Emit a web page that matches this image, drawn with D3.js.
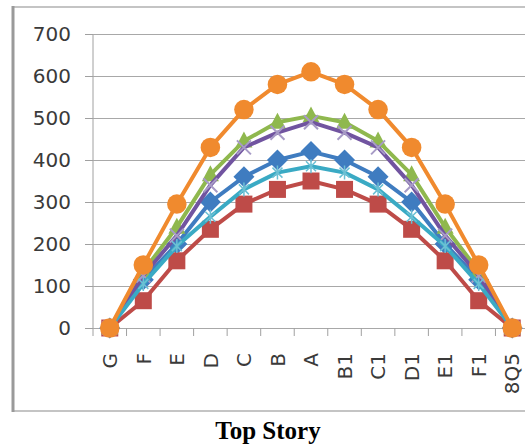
<!DOCTYPE html>
<html>
<head>
<meta charset="utf-8">
<script src="https://cdn.jsdelivr.net/npm/d3@7"></script>
<style>
  html, body { margin: 0; padding: 0; background: #fff; }
  svg { display: block; }
</style>
</head>
<body>
<svg id="chart" width="525" height="446"></svg>
<script>
const categories = ["G","F","E","D","C","B","A","B1","C1","D1","E1","F1","8Q5"];
const yTicks = [0,100,200,300,400,500,600,700];
const seriesBlue   = [0,115,200,300,360,400,420,400,360,300,200,115,0];
const seriesRed    = [0,65,160,235,295,330,350,330,295,235,160,65,0];
const seriesGreen  = [0,135,240,365,445,490,505,490,445,365,240,135,0];
const seriesPurple = [0,125,220,340,430,465,490,465,430,340,220,125,0];
const seriesCyan   = [0,105,195,265,330,370,385,370,330,265,195,105,0];
const seriesOrange = [0,150,295,430,520,580,610,580,520,430,295,150,0];
const chartTitle = "Top Story";

const series = [
  {values: seriesBlue,   color: "#3f7cc0", marker: "diamond"},
  {values: seriesRed,    color: "#be4b48", marker: "square"},
  {values: seriesGreen,  color: "#8fb84e", marker: "triangle"},
  {values: seriesPurple, color: "#7154a0", marker: "x", markerColor: "#a79bc6"},
  {values: seriesCyan,   color: "#3aaac4", marker: "star", markerColor: "#6cc0d4"},
  {values: seriesOrange, color: "#f08a2e", marker: "circle"}
];

const svg = d3.select("#chart");
const pLeft = 93, pRight = 529, pTop = 34, pBottom = 328;

const x = d3.scaleBand().domain(categories).range([pLeft, pRight]);
const y = d3.scaleLinear().domain([0, 700]).range([pBottom, pTop]);

// outer frame
svg.append("rect").attr("x", 13).attr("y", 7).attr("width", 530).attr("height", 404)
  .attr("fill", "#fff").attr("stroke", "#c4c4c4").attr("stroke-width", 2);
svg.append("line").attr("x1", 13).attr("x2", 13).attr("y1", 6).attr("y2", 412)
  .attr("stroke", "#9a9a9a").attr("stroke-width", 3);

// gridlines + y ticks
const yAxis = d3.axisLeft(y).tickValues(yTicks).tickSize(8).tickPadding(14).tickFormat(d3.format("d"));
const gy = svg.append("g").attr("transform", `translate(${pLeft},0)`).call(yAxis);
gy.select(".domain").attr("stroke", "#a0a0a0").attr("d", `M0,${pTop}V${pBottom + 8}`);
gy.selectAll(".tick line").attr("stroke", "#a0a0a0");
gy.selectAll(".tick text").attr("font-family", "DejaVu Sans, sans-serif").attr("font-size", 20).attr("fill", "#3a3a3a");
gy.selectAll(".tick").append("line").attr("x1", 0).attr("x2", 525 - pLeft)
  .attr("stroke", "#a8a8a8").attr("stroke-width", 1.2);

// x axis ticks at band boundaries
const bounds = categories.map(c => x(c) + x.bandwidth());
svg.append("g").selectAll("line").data(bounds).join("line")
  .attr("x1", d => d).attr("x2", d => d).attr("y1", pBottom).attr("y2", pBottom + 8)
  .attr("stroke", "#a0a0a0");

// x labels
svg.append("g").selectAll("text").data(categories).join("text")
  .attr("transform", d => `translate(${x(d) + x.bandwidth() / 2},353) rotate(-90)`)
  .attr("text-anchor", "end").attr("dy", "0.36em")
  .attr("font-family", "DejaVu Sans, sans-serif").attr("font-size", 20).attr("fill", "#3a3a3a")
  .text(d => d);

// series lines and markers
const cx = i => x(categories[i]) + x.bandwidth() / 2;
const line = d3.line().x((d, i) => cx(i)).y(d => y(d));

function markerPath(type) {
  switch (type) {
    case "circle": return d3.symbol(d3.symbolCircle, 300)();
    case "square": return "M-8.5,-8.5H8.5V8.5H-8.5Z";
    case "diamond": return "M0,-10.5L10.5,0L0,10.5L-10.5,0Z";
    case "triangle": return "M0,-9.5L8.5,6.5H-8.5Z";
    case "x": return "M-7,-7L7,7M7,-7L-7,7";
    case "star": return "M-5,-5L5,5M5,-5L-5,5M0,-7V7";
  }
}

series.forEach(s => {
  const g = svg.append("g");
  g.append("path").datum(s.values).attr("d", line)
    .attr("fill", "none").attr("stroke", s.color).attr("stroke-width", 4)
    .attr("stroke-linejoin", "round");
  const stroked = s.marker === "x" || s.marker === "star";
  g.selectAll("path.m").data(s.values).join("path").attr("class", "m")
    .attr("transform", (d, i) => `translate(${cx(i)},${y(d)})`)
    .attr("d", markerPath(s.marker))
    .attr("fill", stroked ? "none" : s.color)
    .attr("stroke", stroked ? (s.markerColor || s.color) : "none")
    .attr("stroke-width", s.marker === "star" ? 1.5 : 2);
});

// title
svg.append("text").attr("x", 268).attr("y", 439).attr("text-anchor", "middle")
  .attr("font-family", "Liberation Serif, Times New Roman, serif").attr("font-weight", "bold")
  .attr("font-size", 25).attr("fill", "#000").text(chartTitle);
</script>
</body>
</html>
